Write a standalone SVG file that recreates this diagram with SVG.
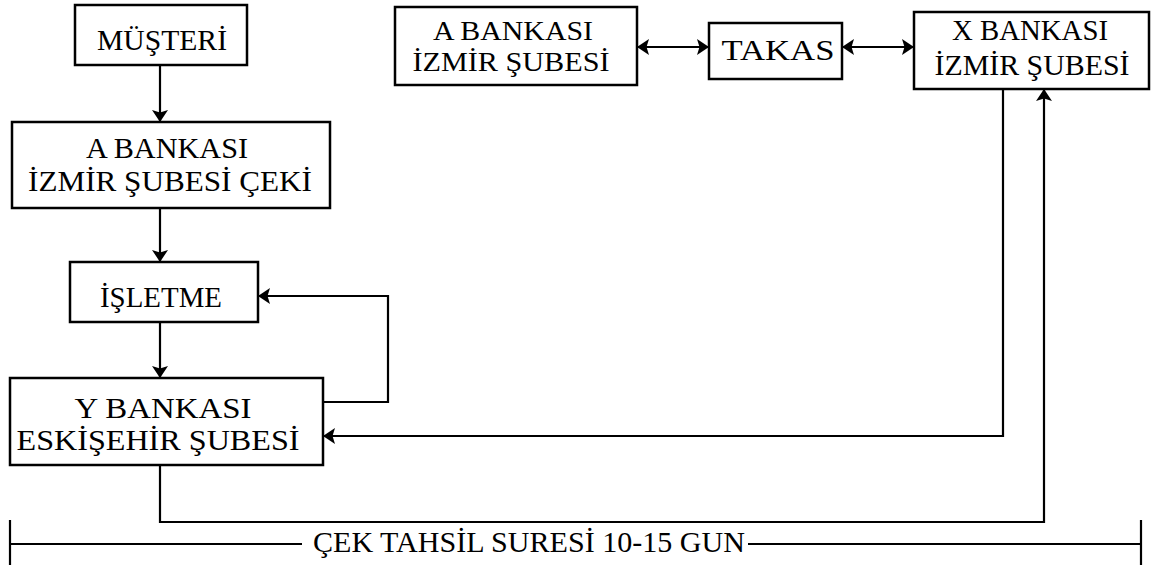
<svg xmlns="http://www.w3.org/2000/svg" width="1155" height="565" viewBox="0 0 1155 565">
<style>
.box{fill:#fff;stroke:#000;stroke-width:2.5}
.t{font-family:"Liberation Serif","Times New Roman",serif;font-size:30px;fill:#000;text-anchor:middle}
.s{font-size:28px}
.l{text-anchor:start}
.c{fill:none;stroke:#000;stroke-width:2.2}
</style>
<defs>
<marker id="ah" viewBox="0 -9 12 18" refX="12" refY="0" markerWidth="12" markerHeight="18" orient="auto" markerUnits="userSpaceOnUse">
<path d="M0,-8 L12,0 L0,8 L2.5,0 z" fill="#000"/>
</marker>
</defs>
<rect width="1155" height="565" fill="#fff"/>
<g id="musteri"><rect class="box" x="75" y="5" width="172" height="60"/><text class="t" x="162" y="50" textLength="130" lengthAdjust="spacingAndGlyphs">MÜŞTERİ</text></g>
<g id="cek"><rect class="box" x="12" y="122" width="318" height="86"/><text class="t" x="167" y="158" textLength="162" lengthAdjust="spacingAndGlyphs">A BANKASI</text><text class="t" x="170" y="191" textLength="284" lengthAdjust="spacingAndGlyphs">İZMİR ŞUBESİ ÇEKİ</text></g>
<g id="isletme"><rect class="box" x="70" y="262" width="188" height="60"/><text class="t" x="161" y="307" textLength="122" lengthAdjust="spacingAndGlyphs">İŞLETME</text></g>
<g id="ybank"><rect class="box" x="10" y="378" width="313" height="87"/><text class="t" x="163" y="418" textLength="177" lengthAdjust="spacingAndGlyphs">Y BANKASI</text><text class="t" x="158" y="450" textLength="283" lengthAdjust="spacingAndGlyphs">ESKİŞEHİR ŞUBESİ</text></g>
<g id="abank"><rect class="box" x="395" y="7" width="242" height="78"/><text class="t s" x="513" y="40" textLength="160" lengthAdjust="spacingAndGlyphs">A BANKASI</text><text class="t s" x="511" y="71" textLength="197" lengthAdjust="spacingAndGlyphs">İZMİR ŞUBESİ</text></g>
<g id="takas"><rect class="box" x="709" y="23" width="133" height="56"/><text class="t" x="778" y="60" textLength="113" lengthAdjust="spacingAndGlyphs">TAKAS</text></g>
<g id="xbank"><rect class="box" x="914" y="12" width="235" height="77"/><text class="t" x="1030" y="40" textLength="156" lengthAdjust="spacingAndGlyphs">X BANKASI</text><text class="t" x="1032" y="75" textLength="195" lengthAdjust="spacingAndGlyphs">İZMİR ŞUBESİ</text></g>
<g id="connectors">
<path class="c" d="M160,65 V122" marker-end="url(#ah)"/>
<path class="c" d="M160,208 V262" marker-end="url(#ah)"/>
<path class="c" d="M160,322 V378" marker-end="url(#ah)"/>
<path class="c" d="M323,402 H388 V296 H258" marker-end="url(#ah)"/>
<path class="c" d="M1003,89 V436 H323" marker-end="url(#ah)"/>
<path class="c" d="M160,465 V522 H1044 V89" marker-end="url(#ah)"/>
<path class="c" d="M676,47 H709" marker-end="url(#ah)"/>
<path class="c" d="M676,47 H637" marker-end="url(#ah)"/>
<path class="c" d="M878,47 H914" marker-end="url(#ah)"/>
<path class="c" d="M878,47 H842" marker-end="url(#ah)"/>
<path class="c" d="M10,520 V565 M10,544 H302 M748,544 H1141 M1141,520 V565"/>
</g>
<g id="label"><text class="t l" x="313" y="552" textLength="432" lengthAdjust="spacingAndGlyphs">ÇEK TAHSİL SURESİ 10-15 GUN</text></g>
</svg>
